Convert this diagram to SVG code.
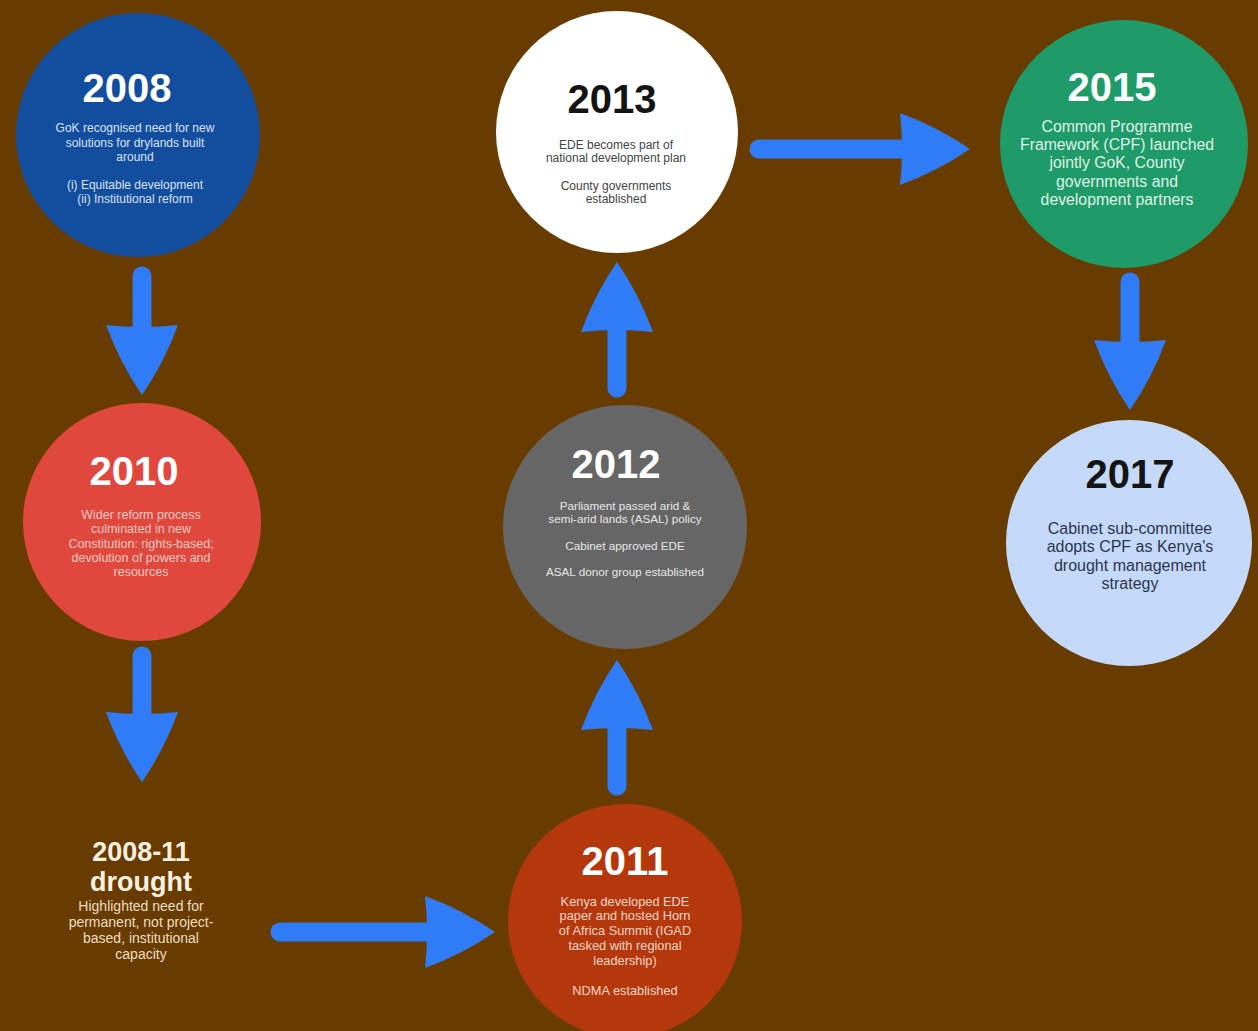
<svg xmlns="http://www.w3.org/2000/svg" width="1258" height="1031" viewBox="0 0 1258 1031">
<style>
.year{font-family:"Liberation Sans",Arial,sans-serif;font-weight:bold;text-anchor:middle}
.body{font-family:"Liberation Sans",Arial,sans-serif;text-anchor:middle}
.conn{stroke:#2f7cf6;stroke-width:19;stroke-linecap:round;fill:none;marker-end:url(#head)}
</style>
<defs>
<marker id="head" markerUnits="userSpaceOnUse" markerWidth="80" markerHeight="80" viewBox="0 -40 80 80" refX="6" refY="0" orient="auto">
<path d="M0,-36 Q38,-22 70,0 Q38,22 0,36 Q4,0 0,-36 Z" fill="#2f7cf6"/>
</marker>
</defs>
<rect x="0" y="0" width="1258" height="1031" fill="#683c00"/>

<g id="connectors">
<line class="conn" x1="142" y1="276" x2="142" y2="331"/>
<line class="conn" x1="142" y1="656" x2="142" y2="718"/>
<line class="conn" x1="280" y1="932" x2="431" y2="932"/>
<line class="conn" x1="617" y1="786" x2="617" y2="724"/>
<line class="conn" x1="617" y1="388" x2="617" y2="326"/>
<line class="conn" x1="759" y1="149" x2="906" y2="149"/>
<line class="conn" x1="1130" y1="282" x2="1130" y2="346"/>
</g>

<g id="n2008">
<circle cx="138" cy="135" r="122" fill="#134d9e"/>
<text class="year" x="127" y="102" font-size="40" fill="#ffffff">2008</text>
<g class="body" font-size="12" fill="#d9e3f3">
<text x="135" y="132">GoK recognised need for new</text>
<text x="135" y="147">solutions for drylands built</text>
<text x="135" y="161">around</text>
<text x="135" y="189">(i) Equitable development</text>
<text x="135" y="203">(ii) Institutional reform</text>
</g>
</g>

<g id="n2010">
<circle cx="142" cy="522" r="119" fill="#e0473d"/>
<text class="year" x="134" y="485" font-size="40" fill="#ffffff">2010</text>
<g class="body" font-size="12.5" fill="#f6cbc4">
<text x="141" y="519">Wider reform process</text>
<text x="141" y="533">culminated in new</text>
<text x="141" y="548">Constitution: rights-based;</text>
<text x="141" y="562">devolution of powers and</text>
<text x="141" y="576">resources</text>
</g>
</g>

<g id="drought">
<text class="year" x="141" y="861" font-size="27" fill="#fbf1e2">2008-11</text>
<text class="year" x="141" y="891" font-size="27" fill="#fbf1e2">drought</text>
<g class="body" font-size="14" fill="#ecdcc3">
<text x="141" y="911">Highlighted need for</text>
<text x="141" y="927">permanent, not project-</text>
<text x="141" y="943">based, institutional</text>
<text x="141" y="959">capacity</text>
</g>
</g>

<g id="n2011">
<circle cx="625" cy="921" r="117" fill="#b5380d"/>
<text class="year" x="625" y="875" font-size="40" fill="#ffffff">2011</text>
<g class="body" font-size="12.8" fill="#f6d6c7">
<text x="625" y="906">Kenya developed EDE</text>
<text x="625" y="920">paper and hosted Horn</text>
<text x="625" y="935">of Africa Summit (IGAD</text>
<text x="625" y="950">tasked with regional</text>
<text x="625" y="965">leadership)</text>
<text x="625" y="995">NDMA established</text>
</g>
</g>

<g id="n2012">
<circle cx="625" cy="527" r="122" fill="#666666"/>
<text class="year" x="616" y="478" font-size="40" fill="#ffffff">2012</text>
<g class="body" font-size="11.7" fill="#e6e6e6">
<text x="625" y="510">Parliament passed arid &amp;</text>
<text x="625" y="523">semi-arid lands (ASAL) policy</text>
<text x="625" y="550">Cabinet approved EDE</text>
<text x="625" y="576">ASAL donor group established</text>
</g>
</g>

<g id="n2013">
<circle cx="617" cy="132" r="121" fill="#ffffff"/>
<text class="year" x="612" y="113" font-size="40" fill="#141414">2013</text>
<g class="body" font-size="12" fill="#444444">
<text x="616" y="149">EDE becomes part of</text>
<text x="616" y="162">national development plan</text>
<text x="616" y="190">County governments</text>
<text x="616" y="203">established</text>
</g>
</g>

<g id="n2015">
<circle cx="1124" cy="144" r="124" fill="#1f9a69"/>
<text class="year" x="1112" y="101" font-size="40" fill="#ffffff">2015</text>
<g class="body" font-size="15.8" fill="#dff3e8">
<text x="1117" y="132">Common Programme</text>
<text x="1117" y="150">Framework (CPF) launched</text>
<text x="1117" y="168">jointly GoK, County</text>
<text x="1117" y="187">governments and</text>
<text x="1117" y="205">development partners</text>
</g>
</g>

<g id="n2017">
<circle cx="1129" cy="543" r="123" fill="#c5daf8"/>
<text class="year" x="1130" y="488" font-size="40" fill="#141414">2017</text>
<g class="body" font-size="16" fill="#2c3650">
<text x="1130" y="534">Cabinet sub-committee</text>
<text x="1130" y="552">adopts CPF as Kenya's</text>
<text x="1130" y="571">drought management</text>
<text x="1130" y="589">strategy</text>
</g>
</g>
</svg>
